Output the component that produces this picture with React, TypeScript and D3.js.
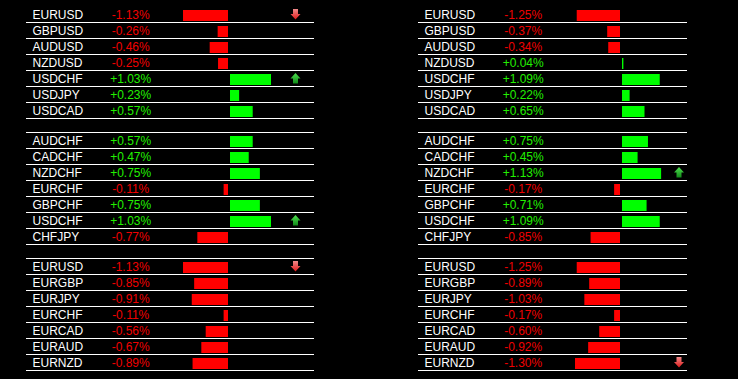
import React from "react";
import * as d3 from "d3";

// ---- data ----
const leftSec0Labels = ["EURUSD", "GBPUSD", "AUDUSD", "NZDUSD", "USDCHF", "USDJPY", "USDCAD"];
const leftSec0Values = [-1.13, -0.26, -0.46, -0.25, 1.03, 0.23, 0.57];
const leftSec1Labels = ["AUDCHF", "CADCHF", "NZDCHF", "EURCHF", "GBPCHF", "USDCHF", "CHFJPY"];
const leftSec1Values = [0.57, 0.47, 0.75, -0.11, 0.75, 1.03, -0.77];
const leftSec2Labels = ["EURUSD", "EURGBP", "EURJPY", "EURCHF", "EURCAD", "EURAUD", "EURNZD"];
const leftSec2Values = [-1.13, -0.85, -0.91, -0.11, -0.56, -0.67, -0.89];

const rightSec0Labels = ["EURUSD", "GBPUSD", "AUDUSD", "NZDUSD", "USDCHF", "USDJPY", "USDCAD"];
const rightSec0Values = [-1.25, -0.37, -0.34, 0.04, 1.09, 0.22, 0.65];
const rightSec1Labels = ["AUDCHF", "CADCHF", "NZDCHF", "EURCHF", "GBPCHF", "USDCHF", "CHFJPY"];
const rightSec1Values = [0.75, 0.45, 1.13, -0.17, 0.71, 1.09, -0.85];
const rightSec2Labels = ["EURUSD", "EURGBP", "EURJPY", "EURCHF", "EURCAD", "EURAUD", "EURNZD"];
const rightSec2Values = [-1.25, -0.89, -1.03, -0.17, -0.6, -0.92, -1.3];

// arrows: [section, row, direction]
const leftArrows: [number, number, "up" | "down"][] = [
  [0, 0, "down"],
  [0, 4, "up"],
  [1, 5, "up"],
  [2, 0, "down"],
];
const rightArrows: [number, number, "up" | "down"][] = [
  [1, 2, "up"],
  [2, 6, "down"],
];

type Section = { labels: string[]; values: number[] };

const leftSections: Section[] = [
  { labels: leftSec0Labels, values: leftSec0Values },
  { labels: leftSec1Labels, values: leftSec1Values },
  { labels: leftSec2Labels, values: leftSec2Values },
];
const rightSections: Section[] = [
  { labels: rightSec0Labels, values: rightSec0Values },
  { labels: rightSec1Labels, values: rightSec1Values },
  { labels: rightSec2Labels, values: rightSec2Values },
];

const FONT = "'Liberation Sans', Arial, sans-serif";
const fmt = (v: number) => (v >= 0 ? "+" : "-") + Math.abs(v).toFixed(2) + "%";

function Panel({
  sections,
  arrows,
  x0,
  x1,
  labelX,
  valueX,
  zeroX,
  arrowX,
  id,
}: {
  sections: Section[];
  arrows: [number, number, "up" | "down"][];
  x0: number;
  x1: number;
  labelX: number;
  valueX: number;
  zeroX: number;
  arrowX: number;
  id: string;
}) {
  const maxAbs = d3.max(sections.flatMap((s) => s.values.map(Math.abs))) as number;
  const w = d3.scaleLinear().domain([0, maxAbs]).range([0, 45]);
  const rowH = 16;
  const secStep = 126;
  const base = (s: number) => 6 + secStep * s;
  const lineY = (s: number, k: number) => base(s) + rowH * (k + 1);

  return (
    <g>
      {sections.map((sec, s) => (
        <g key={s}>
          {s > 0 && (
            <line x1={x0} x2={x1} y1={base(s) + 0.5} y2={base(s) + 0.5} stroke="#fff" strokeWidth={1} />
          )}
          {sec.labels.map((lab, k) => {
            const ly = lineY(s, k);
            const v = sec.values[k];
            const bw = Math.max(1, w(Math.abs(v)));
            const bx = v < 0 ? zeroX - bw : zeroX + 2;
            const col = v < 0 ? "#ff0000" : "#00ff00";
            return (
              <g key={k}>
                <text x={labelX} y={ly - 3} fill="#fff" fontFamily={FONT} fontSize={12}>
                  {lab}
                </text>
                <text
                  x={valueX}
                  y={ly - 3}
                  fill={v < 0 ? "#f00000" : "#22f000"}
                  fontFamily={FONT}
                  fontSize={12}
                  textAnchor="middle"
                >
                  {fmt(v)}
                </text>
                <rect x={bx} y={ly - 12} width={bw} height={11} fill={col} />
                <line x1={x0} x2={x1} y1={ly + 0.5} y2={ly + 0.5} stroke="#fff" strokeWidth={1} />
              </g>
            );
          })}
        </g>
      ))}
      {arrows.map(([s, k, dir], i) => {
        const ly = lineY(s, k);
        const t = ly - 13;
        const b = ly - 2.5;
        const cx = arrowX;
        const d =
          dir === "down"
            ? `M${cx - 2.5},${t} L${cx + 2.5},${t} L${cx + 2.5},${t + 5} L${cx + 5},${t + 5} L${cx},${b} L${cx - 5},${t + 5} L${cx - 2.5},${t + 5} Z`
            : `M${cx - 2.5},${b} L${cx + 2.5},${b} L${cx + 2.5},${b - 5} L${cx + 5},${b - 5} L${cx},${t} L${cx - 5},${b - 5} L${cx - 2.5},${b - 5} Z`;
        return <path key={i} d={d} fill={`url(#${id}-${dir})`} />;
      })}
    </g>
  );
}

export default function App() {
  return (
    <svg
      width={738}
      height={379}
      style={{ position: "absolute", left: 0, top: 0, background: "#000", display: "block" }}
    >
      <defs>
        {["L", "R"].map((p) => (
          <React.Fragment key={p}>
            <linearGradient id={`${p}-down`} x1="0" y1="0" x2="0" y2="1">
              <stop offset="0%" stopColor="#f08a8a" />
              <stop offset="100%" stopColor="#e01818" />
            </linearGradient>
            <linearGradient id={`${p}-up`} x1="0" y1="0" x2="0" y2="1">
              <stop offset="0%" stopColor="#50e050" />
              <stop offset="100%" stopColor="#108a18" />
            </linearGradient>
          </React.Fragment>
        ))}
      </defs>
      <rect x={0} y={0} width={738} height={379} fill="#000" />
      <Panel
        id="L"
        sections={leftSections}
        arrows={leftArrows}
        x0={26}
        x1={314}
        labelX={32.5}
        valueX={130.7}
        zeroX={228}
        arrowX={295.5}
      />
      <Panel
        id="R"
        sections={rightSections}
        arrows={rightArrows}
        x0={418}
        x1={687}
        labelX={424.5}
        valueX={523.2}
        zeroX={620}
        arrowX={679}
      />
    </svg>
  );
}
